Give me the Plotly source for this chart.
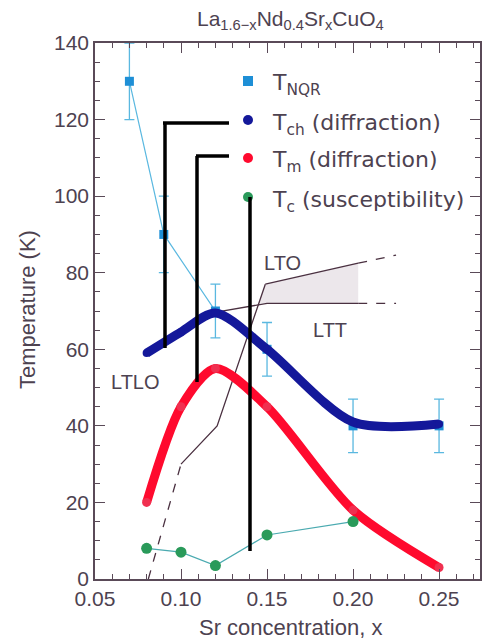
import plotly.graph_objects as go

# ---------------- data ----------------
x_nqr = [0.07, 0.09, 0.12, 0.15, 0.20, 0.25]
t_nqr = [130, 90, 70, 60, 40, 40]
t_nqr_err = [10, 10, 7, 7, 7, 7]

x_ch = [0.08, 0.10, 0.12, 0.15, 0.20, 0.25]
t_ch = [59, 64.5, 69.5, 60, 41, 40.5]

x_m = [0.08, 0.10, 0.12, 0.15, 0.20, 0.25]
t_m = [20, 45, 55, 45, 18, 3]

x_c = [0.08, 0.10, 0.12, 0.15, 0.20]
t_c = [8, 7, 3.5, 11.5, 15]

# structural phase boundaries
ltlo_dash_x = [0.081, 0.10]
ltlo_dash_y = [0, 30]
ltlo_x = [0.10, 0.121, 0.149]
ltlo_y = [30, 40, 77]
lto_x = [0.149, 0.203]
lto_y = [77, 82.5]
lto_dash_x = [0.203, 0.225]
lto_dash_y = [82.5, 84.6]
ltt_x = [0.118, 0.15, 0.203]
ltt_y = [69.5, 72, 72]
ltt_dash_x = [0.203, 0.225]
ltt_dash_y = [72, 72]
shade_x = [0.145, 0.149, 0.203, 0.203, 0.145]
shade_y = [72, 77, 82.5, 72, 72]

phase_labels = ["LTO", "LTT", "LTLO"]
phase_label_x = [0.1587, 0.1866, 0.0733]
phase_label_y = [82.5, 65, 51.4]

legend_labels = ["T<sub>NQR</sub>", "T<sub>ch</sub> (diffraction)",
                 "T<sub>m</sub> (diffraction)", "T<sub>c</sub> (susceptibility)"]

# ---------------- style ----------------
FONT = "Liberation Sans"
LFONT = "DejaVu Sans"
TXT = "#4d4250"
AX = "#5a4a58"
NQR_C = "#1e8fd6"
NQR_LINE = "#5ab8e0"
CH_C = "#14189a"
M_C = "#ff0a2e"
C_C = "#2a9a5a"
C_LINE = "#4aaab0"
PH_C = "#4a3040"

OFF = 8  # page body margin
W, H = 490 - OFF, 643 - OFF
L, R, T, B = 95 - OFF, 480 - OFF, 43 - OFF, 579 - OFF


def px(xp):
    return (xp - OFF - L) / (R - L)


def py(yp):
    return (B - (yp - OFF)) / (B - T)


fig = go.Figure()

# shaded region
fig.add_trace(go.Scatter(x=shade_x, y=shade_y, fill="toself", mode="none",
                         fillcolor="rgba(200,185,198,0.35)", hoverinfo="skip"))
for xs, ys, dash in [(ltlo_dash_x, ltlo_dash_y, "dash"), (ltlo_x, ltlo_y, "solid"),
                     (lto_x, lto_y, "solid"), (lto_dash_x, lto_dash_y, "dash"),
                     (ltt_x, ltt_y, "solid"), (ltt_dash_x, ltt_dash_y, "dash")]:
    fig.add_trace(go.Scatter(x=xs, y=ys, mode="lines",
                             line=dict(color=PH_C, width=1.3, dash=dash)))

# T_NQR
fig.add_trace(go.Scatter(x=x_nqr, y=t_nqr, mode="lines+markers",
                         line=dict(color=NQR_LINE, width=1.2),
                         marker=dict(symbol="square", size=9, color=NQR_C),
                         error_y=dict(type="data", array=t_nqr_err, visible=True,
                                      color=NQR_LINE, thickness=1.3, width=5)))
# T_ch
fig.add_trace(go.Scatter(x=x_ch, y=t_ch, mode="lines+markers",
                         line=dict(color=CH_C, width=9, shape="spline", smoothing=0.8),
                         marker=dict(size=8, color=CH_C)))
# T_m
fig.add_trace(go.Scatter(x=x_m, y=t_m, mode="lines+markers",
                         line=dict(color=M_C, width=9, shape="spline", smoothing=0.8),
                         marker=dict(size=9, color="#f03050")))
# T_c
fig.add_trace(go.Scatter(x=x_c, y=t_c, mode="lines+markers",
                         line=dict(color=C_LINE, width=1.2),
                         marker=dict(size=11, color=C_C)))

shapes = []
# legend markers
leg_y = [81, 120, 158, 197]
leg_col = [NQR_C, CH_C, M_C, C_C]
for i, (yy, cc) in enumerate(zip(leg_y, leg_col)):
    shapes.append(dict(type="rect" if i == 0 else "circle", xref="paper", yref="paper",
                       xsizemode="pixel", ysizemode="pixel",
                       xanchor=px(248), yanchor=py(yy),
                       x0=-5, x1=5, y0=-5, y1=5,
                       fillcolor=cc, line=dict(width=0)))

# black leader lines
blk = dict(color="black", width=3.5)
for (x0, y0, x1, y1) in [(163, 123, 229, 123), (165, 123, 165, 348),
                         (196, 156, 229, 156), (197, 156, 197, 382),
                         (250, 197, 250, 551)]:
    shapes.append(dict(type="line", xref="paper", yref="paper",
                       x0=px(x0), y0=py(y0), x1=px(x1), y1=py(y1), line=blk, layer="above"))

annotations = []
for i, (lab, yy) in enumerate(zip(legend_labels, leg_y)):
    annotations.append(dict(text=lab, xref="paper", yref="paper", x=px(270), y=py(yy + 4),
                            xanchor="left", yanchor="middle", showarrow=False,
                            font=dict(family=LFONT, size=22, color=TXT)))
for lab, xx, yy in zip(phase_labels, phase_label_x, phase_label_y):
    annotations.append(dict(text=lab, x=xx, y=yy, xref="x", yref="y", showarrow=False,
                            xanchor="center", yanchor="middle",
                            font=dict(family=FONT, size=20, color=TXT)))
# title
annotations.append(dict(text="La<sub>1.6−x</sub>Nd<sub>0.4</sub>Sr<sub>x</sub>CuO<sub>4</sub>",
                        xref="paper", yref="paper", x=px(290), y=py(20),
                        xanchor="center", yanchor="middle", showarrow=False,
                        font=dict(family=FONT, size=21, color=TXT)))
# axis titles
annotations.append(dict(text="Sr concentration, x", xref="paper", yref="paper",
                        x=px(290), y=py(627), xanchor="center", yanchor="middle",
                        showarrow=False, font=dict(family=FONT, size=22, color=TXT)))
annotations.append(dict(text="Temperature (K)", xref="paper", yref="paper",
                        x=px(27), y=py(310), xanchor="center", yanchor="middle",
                        textangle=-90, showarrow=False,
                        font=dict(family=FONT, size=22, color=TXT)))

fig.update_layout(
    width=W, height=H,
    margin=dict(l=L, r=W - R, t=T, b=H - B),
    paper_bgcolor="white", plot_bgcolor="white",
    showlegend=False,
    shapes=shapes, annotations=annotations,
    font=dict(family=FONT, color=TXT),
)
fig.update_xaxes(range=[0.05, 0.2738], dtick=0.05, tick0=0.05, tickformat=".2f",
                 automargin=False,
                 showline=True, mirror="ticks", linecolor=AX, linewidth=1.5,
                 ticks="inside", ticklen=10, tickcolor=AX, tickwidth=1.3,
                 minor=dict(dtick=0.01, ticks="inside", ticklen=5, tickcolor=AX, tickwidth=1.2),
                 showgrid=False, zeroline=False,
                 tickfont=dict(family=FONT, size=21, color=TXT))
fig.update_yaxes(range=[0, 140], dtick=20, automargin=False,
                 showline=True, mirror="ticks", linecolor=AX, linewidth=1.5,
                 ticks="inside", ticklen=10, tickcolor=AX, tickwidth=1.3,
                 minor=dict(dtick=5, ticks="inside", ticklen=5, tickcolor=AX, tickwidth=1.2),
                 showgrid=False, zeroline=False,
                 tickfont=dict(family=FONT, size=21, color=TXT))

fig.write_html("out.html")
